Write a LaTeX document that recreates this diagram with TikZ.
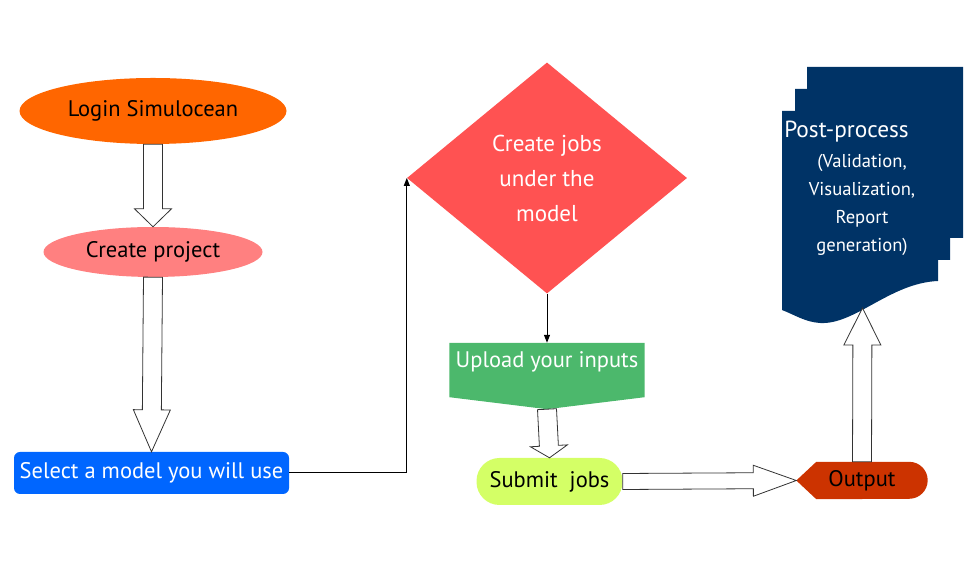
\documentclass[tikz,border=0pt]{standalone}
\usepackage{fontspec}
\setmainfont{PT Sans}
\usetikzlibrary{shapes.geometric,arrows.meta,calc,positioning,backgrounds}

\definecolor{loginorange}{RGB}{255,102,0}
\definecolor{projectpink}{RGB}{255,128,128}
\definecolor{modelblue}{RGB}{0,102,255}
\definecolor{jobsred}{RGB}{255,82,82}
\definecolor{uploadgreen}{RGB}{76,184,108}
\definecolor{submitlime}{RGB}{212,255,102}
\definecolor{outputred}{RGB}{204,51,0}
\definecolor{postnavy}{RGB}{0,51,102}

% hollow block arrow between two points
\tikzset{
  fat w/.store in=\fatw, fat h/.store in=\fath, fat l/.store in=\fatl,
  fat w=9.5, fat h=18.5, fat l=18,
  fat arrow/.style={draw=black!80, fill=white, line width=0.8pt, fat l=#1, to path={
    let \p1=(\tikztostart), \p2=(\tikztotarget),
        \n1={veclen(\x2-\x1,\y2-\y1)}, \n2={(\x2-\x1)/\n1}, \n3={(\y2-\y1)/\n1}
    in ({\x1-\fatw*(\n3)},{\y1+\fatw*(\n2)})
    -- ({\x2-\fatl*(\n2)-\fatw*(\n3)},{\y2-\fatl*(\n3)+\fatw*(\n2)})
    -- ({\x2-\fatl*(\n2)-\fath*(\n3)},{\y2-\fatl*(\n3)+\fath*(\n2)})
    -- (\p2)
    -- ({\x2-\fatl*(\n2)+\fath*(\n3)},{\y2-\fatl*(\n3)-\fath*(\n2)})
    -- ({\x2-\fatl*(\n2)+\fatw*(\n3)},{\y2-\fatl*(\n3)-\fatw*(\n2)})
    -- ({\x1+\fatw*(\n3)},{\y1-\fatw*(\n2)}) -- cycle}},
  fat arrow/.default=18
}

\begin{document}
\begin{tikzpicture}[
    x=1pt, y=1pt,
    font=\fontsize{22.5}{27}\selectfont,
    login node/.style={ellipse,fill=loginorange,minimum width=267pt,minimum height=66pt,inner sep=0pt},
    project node/.style={ellipse,fill=projectpink,minimum width=219pt,minimum height=50pt,inner sep=0pt},
    model node/.style={rectangle,rounded corners=6pt,fill=modelblue,text=white,minimum width=275pt,minimum height=42pt,inner sep=0pt},
    jobs node/.style={diamond,fill=jobsred,text=white,align=center,minimum width=280pt,minimum height=231pt,inner sep=0pt,font=\fontsize{23}{35}\selectfont},
    upload node/.style={rectangle,text=white,minimum width=195pt,minimum height=54pt,inner sep=0pt,text depth=21pt},
    submit node/.style={rectangle,rounded corners=23pt,fill=submitlime,minimum width=146pt,minimum height=47pt,inner sep=0pt},
    output node/.style={rectangle,minimum width=131pt,minimum height=37pt,inner sep=0pt},
    post node/.style={text=white,align=center,font=\fontsize{18.6}{28}\selectfont},
    link/.style={-{Triangle[length=8pt,width=6pt]},line width=1pt,black}
]
\useasboundingbox (0,0) rectangle (974,575);

% Left column
\node[login node] (login) at (153,464) {Login Simulocean};
\node[project node, below of=login, node distance=141pt] (project) {Create project};
\node[model node, below of=project, node distance=221pt, xshift=-1.5pt] (model) {Select a model you will use};

% Middle column
\node[jobs node] (jobs) at (547,397) {Create jobs\\under the\\model};
\node[upload node, below of=jobs, node distance=192pt] (upload) {Upload your inputs};
\node[submit node, below of=upload, node distance=111.5pt, xshift=2.5pt] (submit) {Submit\ \ jobs};

% Right column
\node[output node, right of=submit, node distance=312.5pt, yshift=1pt] (output) {Output};
\node[post node] (post) at (862,387) {{\fontsize{23.3}{28}\selectfont Post-process\hspace{31pt}\mbox{}}\\[2pt](Validation,\\Visualization,\\Report\\generation)};
\coordinate (postbase) at (862.5,267);

% Shapes behind the texts
\begin{scope}[on background layer]
\fill[uploadgreen] (upload.north west) -- (upload.north east) -- (upload.south east)
  -- ([yshift=-12pt]upload.south) -- (upload.south west) -- cycle;
\fill[outputred] (output.west) -- ([xshift=20pt]output.north west)
  -- ([xshift=-18.5pt]output.north east) arc[start angle=90,end angle=-90,radius=18.5pt]
  -- ([xshift=20pt]output.south west) -- cycle;
\fill[postnavy] (807,508) -| (963,337) -| (950,315) -| (938,294)
  .. controls (890,292) and (855,250) .. (820,252)
  .. controls (805,253) and (795,260) .. (782,265)
  -- (782,464) -| (795,486) -| (807,508) -- cycle;
\end{scope}

% Arrows
\draw[fat arrow=18] (login.south) to (project.north);
\draw[fat arrow=42] (project.south) to (model.north);
\draw[link] (model.east) -| (jobs.west);
\draw[link] (jobs.south) -- (upload.north);
\draw[fat arrow=12] ([yshift=-12pt]upload.south) to (submit.north);
\draw[fat arrow=43, fat w=8, fat h=15.5] (submit.east) to (output.west);
\draw[fat arrow=37] (output.north) to (postbase);

\end{tikzpicture}
\end{document}
